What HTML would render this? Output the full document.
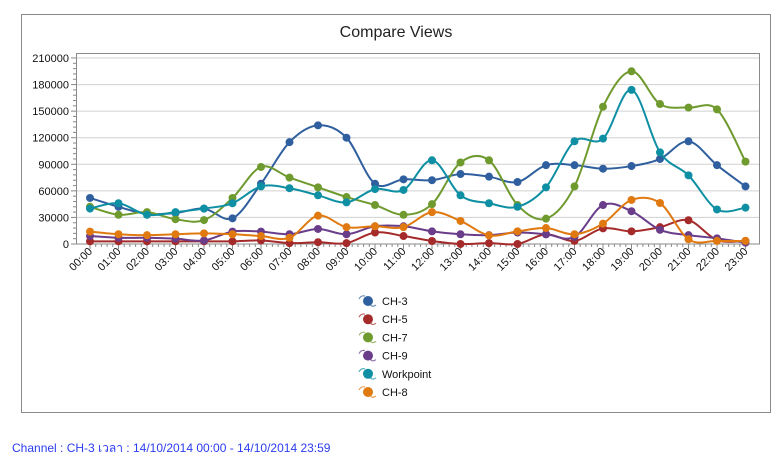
<!DOCTYPE html>
<html><head><meta charset="utf-8"><style>
body{margin:0;background:#fff;width:784px;height:471px;overflow:hidden;font-family:"Liberation Sans","Noto Sans CJK SC",sans-serif;}
svg{position:absolute;left:0;top:0}
.foot{position:absolute;left:12px;top:439px;font-size:12px;color:#2b3cf0;font-family:"Liberation Sans","Noto Sans CJK SC",sans-serif;}
</style></head><body>
<svg id="s" width="784" height="471" xmlns="http://www.w3.org/2000/svg" font-family="Liberation Sans, sans-serif">
<rect x="21.5" y="14.5" width="749" height="398" fill="#fff" stroke="#8a8a8a"/>
<text x="396" y="37" font-size="16" text-anchor="middle" fill="#222">Compare Views</text>
<rect x="76.5" y="53.5" width="683" height="190.5" fill="#fff" stroke="#8a8a8a"/>
<g id="g"></g>
</svg>
<div class="foot">Channel : CH-3 เวลา : 14/10/2014 00:00 - 14/10/2014 23:59</div>
<script>
const g=document.getElementById('g');const NS='http://www.w3.org/2000/svg';
let h='';
const X=i=>90+i*28.5, Y=v=>244-v/210000*186;
for(let k=1;k<=7;k++){const y=Y(k*30000);h+=`<line x1="77" x2="759" y1="${y}" y2="${y}" stroke="#d0d0d0"/>`;}
for(let k=0;k<=7;k++){const y=Y(k*30000);h+=`<text x="69" y="${y+4}" font-size="11" text-anchor="end" fill="#111">${k*30000}</text><line x1="71" x2="76" y1="${y}" y2="${y}" stroke="#888"/>`;
 if(k<7)for(let m=1;m<5;m++){const yy=Y(k*30000+m*6000);h+=`<line x1="73" x2="76" y1="${yy}" y2="${yy}" stroke="#888"/>`;}}
for(let i=0;i<24;i++){const x=X(i);h+=`<line x1="${x}" x2="${x}" y1="244" y2="249" stroke="#888"/>`;
 for(let m=1;m<5&&i<23;m++){const xx=x+m*5.7;h+=`<line x1="${xx}" x2="${xx}" y1="244" y2="247" stroke="#888"/>`;}
 const lb=(i<10?'0':'')+i+':00';h+=`<text transform="translate(${x+3},${252}) rotate(-45)" font-size="11" text-anchor="end" fill="#111">${lb}</text>`;}
const S=[
['#2f5f9e',[52,42,34,35,40,29,68,115,134,120,68,73,72,79,76,70,89,89,85,88,96,116,89,65]],
['#a52a2a',[3,3,3,3,3,3,4,1,2,1,13,9,3.4,0,1,0,11,3.5,17.7,14.3,19,26.8,4.5,3.5]],
['#6f9a2e',[42,33,36,28,27,52,87,75,64,53,44,33,45,92,94.5,44,28.6,65,155,195,158,154,152,93]],
['#6a3d8a',[9,7,7,6,4,14,14,11,17,11,20,20,14.3,11,10,13,11,8,44,37,16,10,6.4,1.5]],
['#0e8fa3',[40,46,33,36,40,46,65,63,55,47,62,61,94.5,55,46,42,64,116,119,174,103.5,77.5,39,41]],
['#e07a10',[14,11,10,11,12,11,9,7,32,19,20,19,36,26,9.8,14.3,18,11,23,49.7,46.3,5.3,3.5,3.5]]];
S.forEach(([c,d])=>{const p=d.map((v,i)=>[X(i),Y(v*1000)]);let s=`M${p[0][0]},${p[0][1]}`;
 for(let i=0;i<p.length-1;i++){const p0=p[i-1]||p[i],p1=p[i],p2=p[i+1],p3=p[i+2]||p2;
  s+=`C${p1[0]+(p2[0]-p0[0])/6},${p1[1]+(p2[1]-p0[1])/6} ${p2[0]-(p3[0]-p1[0])/6},${p2[1]-(p3[1]-p1[1])/6} ${p2[0]},${p2[1]}`;}
 h+=`<path d="${s}" fill="none" stroke="${c}" stroke-width="2"/>`;
 p.forEach(q=>h+=`<circle cx="${q[0]}" cy="${q[1]}" r="4" fill="${c}"/>`);});
const L=[['CH-3','#2f5f9e'],['CH-5','#a52a2a'],['CH-7','#6f9a2e'],['CH-9','#6a3d8a'],['Workpoint','#0e8fa3'],['CH-8','#e07a10']];
L.forEach(([n,c],i)=>{const y=301+i*18.2;
 h+=`<path d="M359,${y-2} q2,-4 6,-3 M370,${y+3} q2,4 6,1" stroke="${c}" stroke-width="1.2" fill="none" opacity="0.7"/><circle cx="368" cy="${y}" r="5" fill="${c}"/><text x="382" y="${y+4}" font-size="11" fill="#111">${n}</text>`;});
g.innerHTML=h;
</script>
</body></html>
